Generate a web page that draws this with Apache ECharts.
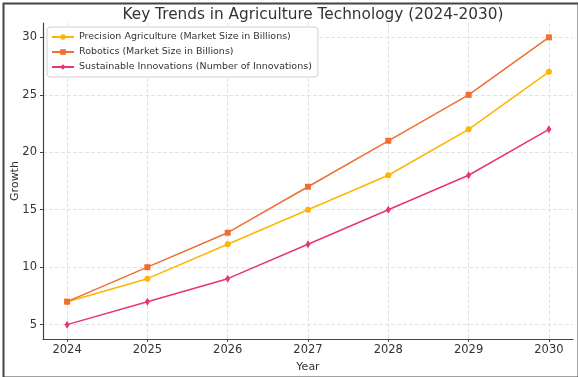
<!DOCTYPE html>
<html><head><meta charset="utf-8">
<script src="https://cdn.jsdelivr.net/npm/echarts@6/dist/echarts.min.js"></script>
<style>html,body{margin:0;padding:0;background:#fff}#c{width:578px;height:377px}</style>
</head><body><div id="c"></div>
<script>
const years = [2024, 2025, 2026, 2027, 2028, 2029, 2030];
const precision = [7, 9, 12, 15, 18, 22, 27];
const robotics = [7, 10, 13, 17, 21, 25, 30];
const sustainable = [5, 7, 9, 12, 15, 18, 22];
const yTicks = [5, 10, 15, 20, 25, 30];
const seriesNames = ['Precision Agriculture (Market Size in Billions)', 'Robotics (Market Size in Billions)', 'Sustainable Innovations (Number of Innovations)'];

const chart = echarts.init(document.getElementById('c'), null, {renderer: 'canvas'});
const pair = arr => years.map((y, i) => [y, arr[i]]);
const font = 'DejaVu Sans';
chart.setOption({
  animation: false,
  textStyle: {fontFamily: font},
  title: {text: 'Key Trends in Agriculture Technology (2024-2030)', left: 308, textAlign: 'center', top: 3,
    textStyle: {fontFamily: font, fontSize: 15.3, fontWeight: 'normal', color: '#333'}},
  grid: {left: 43, right: 5, top: 23, bottom: 38, containLabel: false, outerBoundsMode: 'none'},
  legend: {orient: 'vertical', left: 47, top: 27, itemWidth: 22, itemHeight: 7, itemGap: 5,
    padding: [5, 6, 5, 4], backgroundColor: '#fff', borderColor: '#d0d0d0', borderWidth: 1, borderRadius: 3,
    textStyle: {fontFamily: font, fontSize: 9.5, color: '#333'}, data: seriesNames},
  xAxis: {type: 'value', min: 2023.7, max: 2030.3, name: 'Year', nameLocation: 'middle', nameGap: 23,
    nameMoveOverlap: false,
    nameTextStyle: {fontFamily: font, fontSize: 11, color: '#333'},
    axisLine: {show: true, lineStyle: {color: '#444', width: 1.2}},
    axisTick: {show: true, customValues: years, length: 3, lineStyle: {color: '#444'}},
    axisLabel: {customValues: years, fontSize: 11.5, color: '#333', margin: 5, formatter: v => String(v)},
    splitLine: {show: true, lineStyle: {color: '#e3e3e3', type: 'dashed'}}},
  yAxis: {type: 'value', min: 3.75, max: 31.25, name: 'Growth', nameLocation: 'middle', nameGap: 22,
    nameMoveOverlap: false,
    nameTextStyle: {fontFamily: font, fontSize: 11, color: '#333'},
    axisLine: {show: true, lineStyle: {color: '#444', width: 1.2}},
    axisTick: {show: true, customValues: yTicks, length: 3, lineStyle: {color: '#444'}},
    axisLabel: {customValues: yTicks, fontSize: 11.5, color: '#333', margin: 6},
    splitLine: {show: true, lineStyle: {color: '#e3e3e3', type: 'dashed'}}},
  graphic: [{type: 'rect', left: 1, top: 1, shape: {width: 575, height: 374}, silent: true,
    style: {fill: 'none', stroke: '#444', lineWidth: 2}, z: 100}],
  series: [
    {name: seriesNames[0], type: 'line', data: pair(precision), symbol: 'circle', symbolSize: 6,
      itemStyle: {color: '#FFB400'}, lineStyle: {width: 1.5}},
    {name: seriesNames[1], type: 'line', data: pair(robotics), symbol: 'rect', symbolSize: 6,
      itemStyle: {color: '#F06E2E'}, lineStyle: {width: 1.5}},
    {name: seriesNames[2], type: 'line', data: pair(sustainable), symbol: 'diamond', symbolSize: [5, 8],
      itemStyle: {color: '#E8366B'}, lineStyle: {width: 1.5}}
  ]
});
</script></body></html>
